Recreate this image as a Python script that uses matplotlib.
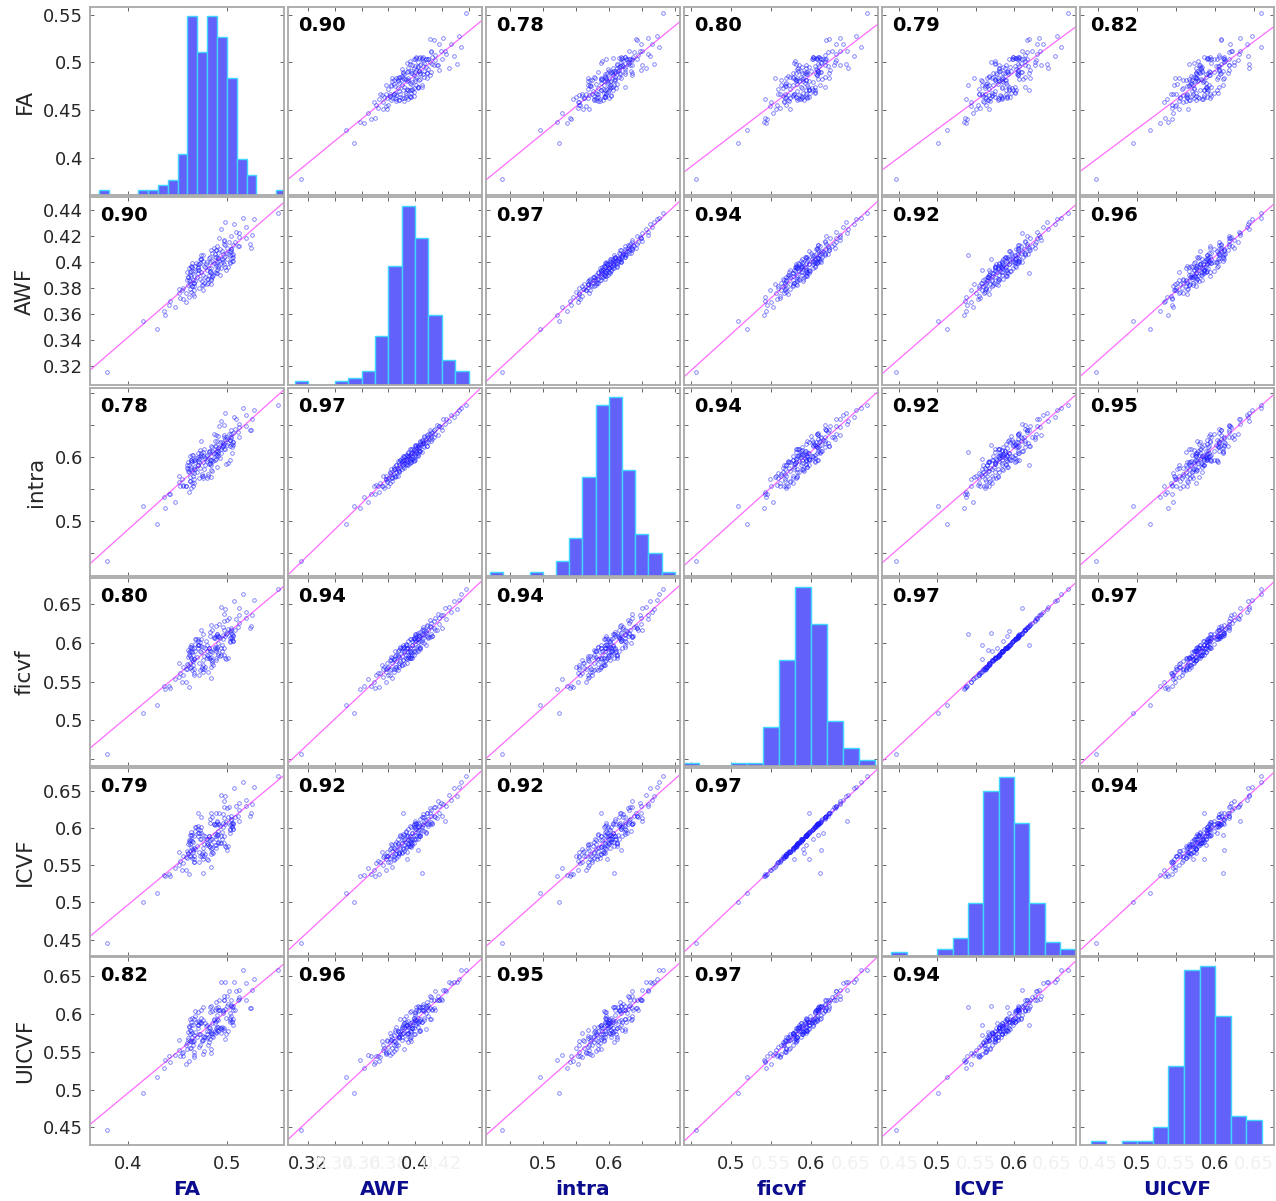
import numpy as np
import matplotlib
matplotlib.use('Agg')
import matplotlib.pyplot as plt

names = ['FA', 'AWF', 'intra', 'ficvf', 'ICVF', 'UICVF']

fa = [0.378, 0.429, 0.415, 0.437, 0.436, 0.447, 0.441, 0.458, 0.442, 0.452,
      0.462, 0.467, 0.466, 0.451, 0.464, 0.454, 0.476, 0.451, 0.472, 0.455,
      0.467, 0.465, 0.475, 0.461, 0.484, 0.463, 0.467, 0.481, 0.468, 0.475,
      0.462, 0.484, 0.466, 0.473, 0.480, 0.461, 0.478, 0.470, 0.485, 0.464,
      0.476, 0.463, 0.493, 0.471, 0.484, 0.460, 0.488, 0.474, 0.483, 0.464,
      0.490, 0.472, 0.480, 0.462, 0.494, 0.484, 0.471, 0.498, 0.478, 0.491,
      0.468, 0.489, 0.497, 0.479, 0.472, 0.494, 0.487, 0.465, 0.503, 0.480,
      0.490, 0.476, 0.506, 0.485, 0.496, 0.473, 0.500, 0.482, 0.491, 0.506,
      0.483, 0.497, 0.476, 0.503, 0.496, 0.488, 0.491, 0.485, 0.504, 0.495,
      0.489, 0.484, 0.504, 0.493, 0.524, 0.500, 0.490, 0.511, 0.506, 0.497,
      0.523, 0.502, 0.497, 0.497, 0.492, 0.512, 0.504, 0.526, 0.512, 0.509,
      0.494, 0.519, 0.507, 0.498, 0.528, 0.516, 0.552, 0.467, 0.501, 0.474,
      0.489, 0.469, 0.495, 0.481, 0.468, 0.504, 0.463, 0.482, 0.483, 0.506,
      0.480, 0.461, 0.483, 0.464, 0.492, 0.505, 0.467, 0.499, 0.471, 0.491,
      0.460, 0.490, 0.465, 0.496, 0.489, 0.503, 0.476, 0.466, 0.503, 0.487,
      0.467, 0.463, 0.486, 0.471, 0.474, 0.499, 0.512, 0.485, 0.477, 0.505,
      0.458, 0.477, 0.463, 0.489, 0.505, 0.489, 0.508, 0.482, 0.464, 0.488,
      0.465, 0.484, 0.471, 0.473, 0.501, 0.498, 0.519, 0.455, 0.491, 0.474]

awf = [0.315, 0.348, 0.354, 0.359, 0.362, 0.365, 0.367, 0.369, 0.370, 0.372,
       0.373, 0.374, 0.375, 0.376, 0.377, 0.378, 0.378, 0.379, 0.380, 0.380,
       0.381, 0.381, 0.382, 0.382, 0.383, 0.383, 0.384, 0.384, 0.385, 0.385,
       0.386, 0.386, 0.386, 0.387, 0.387, 0.388, 0.388, 0.388, 0.389, 0.389,
       0.390, 0.390, 0.390, 0.391, 0.391, 0.392, 0.392, 0.392, 0.393, 0.393,
       0.394, 0.394, 0.394, 0.395, 0.395, 0.395, 0.396, 0.396, 0.396, 0.397,
       0.397, 0.397, 0.398, 0.398, 0.398, 0.399, 0.399, 0.399, 0.400, 0.400,
       0.400, 0.401, 0.401, 0.401, 0.402, 0.402, 0.402, 0.403, 0.403, 0.404,
       0.404, 0.404, 0.405, 0.405, 0.406, 0.406, 0.407, 0.407, 0.408, 0.408,
       0.409, 0.409, 0.410, 0.410, 0.411, 0.411, 0.412, 0.412, 0.413, 0.414,
       0.414, 0.415, 0.416, 0.417, 0.418, 0.419, 0.420, 0.421, 0.422, 0.423,
       0.425, 0.427, 0.429, 0.431, 0.433, 0.434, 0.438, 0.384, 0.396, 0.405,
       0.391, 0.399, 0.402, 0.387, 0.393, 0.410, 0.379, 0.395, 0.400, 0.406,
       0.383, 0.388, 0.392, 0.397, 0.401, 0.405, 0.389, 0.394, 0.398, 0.403,
       0.386, 0.391, 0.396, 0.400, 0.404, 0.408, 0.382, 0.393, 0.399, 0.411,
       0.378, 0.385, 0.390, 0.395, 0.402, 0.407, 0.412, 0.388, 0.397, 0.401,
       0.376, 0.384, 0.392, 0.398, 0.403, 0.409, 0.415, 0.390, 0.396, 0.404,
       0.381, 0.387, 0.394, 0.399, 0.406, 0.413, 0.418, 0.371, 0.395, 0.402]

intra = [0.438, 0.496, 0.524, 0.521, 0.537, 0.529, 0.543, 0.554, 0.542, 0.554,
         0.546, 0.560, 0.555, 0.570, 0.551, 0.566, 0.571, 0.561, 0.568, 0.555,
         0.575, 0.560, 0.573, 0.581, 0.569, 0.562, 0.582, 0.574, 0.581, 0.571,
         0.577, 0.588, 0.570, 0.583, 0.594, 0.578, 0.588, 0.576, 0.595, 0.584,
         0.593, 0.581, 0.599, 0.588, 0.596, 0.583, 0.595, 0.600, 0.589, 0.595,
         0.603, 0.592, 0.597, 0.587, 0.607, 0.601, 0.594, 0.612, 0.599, 0.607,
         0.593, 0.605, 0.612, 0.602, 0.597, 0.612, 0.607, 0.594, 0.618, 0.604,
         0.610, 0.602, 0.619, 0.609, 0.617, 0.602, 0.619, 0.610, 0.614, 0.624,
         0.610, 0.620, 0.608, 0.626, 0.622, 0.617, 0.633, 0.616, 0.630, 0.624,
         0.635, 0.618, 0.632, 0.624, 0.642, 0.629, 0.625, 0.639, 0.637, 0.632,
         0.643, 0.636, 0.650, 0.635, 0.649, 0.647, 0.643, 0.659, 0.651, 0.660,
         0.656, 0.666, 0.662, 0.669, 0.673, 0.676, 0.682, 0.584, 0.590, 0.625,
         0.602, 0.599, 0.616, 0.571, 0.596, 0.636, 0.562, 0.608, 0.596, 0.624,
         0.568, 0.592, 0.590, 0.593, 0.616, 0.620, 0.596, 0.589, 0.607, 0.610,
         0.587, 0.584, 0.604, 0.619, 0.609, 0.627, 0.568, 0.603, 0.596, 0.636,
         0.566, 0.569, 0.594, 0.600, 0.607, 0.631, 0.631, 0.578, 0.612, 0.607,
         0.555, 0.581, 0.601, 0.597, 0.616, 0.617, 0.644, 0.589, 0.595, 0.625,
         0.577, 0.579, 0.588, 0.611, 0.622, 0.629, 0.649, 0.556, 0.601, 0.603]

ficvf = [0.456, 0.520, 0.509, 0.541, 0.544, 0.553, 0.545, 0.550, 0.542, 0.561,
         0.543, 0.561, 0.571, 0.556, 0.569, 0.549, 0.563, 0.574, 0.559, 0.569,
         0.559, 0.578, 0.567, 0.582, 0.555, 0.574, 0.579, 0.562, 0.590, 0.569,
         0.585, 0.569, 0.577, 0.565, 0.585, 0.591, 0.569, 0.582, 0.577, 0.595,
         0.572, 0.589, 0.583, 0.597, 0.578, 0.573, 0.594, 0.588, 0.580, 0.598,
         0.594, 0.574, 0.598, 0.588, 0.594, 0.582, 0.605, 0.581, 0.593, 0.587,
         0.605, 0.589, 0.585, 0.602, 0.597, 0.584, 0.607, 0.594, 0.603, 0.590,
         0.612, 0.595, 0.603, 0.588, 0.610, 0.601, 0.613, 0.594, 0.609, 0.602,
         0.614, 0.594, 0.611, 0.601, 0.621, 0.606, 0.600, 0.617, 0.613, 0.598,
         0.609, 0.623, 0.617, 0.606, 0.622, 0.630, 0.611, 0.621, 0.609, 0.629,
         0.619, 0.632, 0.617, 0.637, 0.624, 0.636, 0.619, 0.636, 0.645, 0.631,
         0.646, 0.640, 0.654, 0.644, 0.656, 0.663, 0.670, 0.579, 0.580, 0.617,
         0.578, 0.605, 0.589, 0.583, 0.599, 0.608, 0.568, 0.581, 0.609, 0.610,
         0.581, 0.571, 0.589, 0.581, 0.608, 0.604, 0.594, 0.579, 0.597, 0.609,
         0.566, 0.595, 0.588, 0.605, 0.592, 0.615, 0.578, 0.585, 0.607, 0.608,
         0.567, 0.583, 0.571, 0.603, 0.596, 0.612, 0.626, 0.574, 0.583, 0.611,
         0.566, 0.567, 0.595, 0.581, 0.607, 0.622, 0.617, 0.594, 0.589, 0.595,
         0.565, 0.590, 0.594, 0.589, 0.618, 0.609, 0.632, 0.558, 0.584, 0.605]

icvf = [0.446, 0.513, 0.501, 0.535, 0.537, 0.547, 0.539, 0.544, 0.536, 0.556,
        0.538, 0.554, 0.568, 0.550, 0.562, 0.544, 0.558, 0.568, 0.555, 0.563,
        0.554, 0.572, 0.562, 0.579, 0.548, 0.569, 0.559, 0.557, 0.572, 0.565,
        0.581, 0.565, 0.571, 0.562, 0.580, 0.566, 0.565, 0.576, 0.573, 0.591,
        0.568, 0.584, 0.580, 0.620, 0.572, 0.569, 0.578, 0.585, 0.575, 0.595,
        0.591, 0.568, 0.559, 0.584, 0.589, 0.579, 0.603, 0.576, 0.590, 0.582,
        0.602, 0.586, 0.580, 0.586, 0.594, 0.580, 0.605, 0.591, 0.599, 0.585,
        0.610, 0.591, 0.599, 0.585, 0.607, 0.597, 0.570, 0.589, 0.591, 0.599,
        0.612, 0.590, 0.540, 0.598, 0.619, 0.604, 0.596, 0.615, 0.611, 0.595,
        0.606, 0.621, 0.613, 0.603, 0.620, 0.627, 0.609, 0.617, 0.607, 0.628,
        0.617, 0.629, 0.614, 0.636, 0.621, 0.634, 0.617, 0.633, 0.610, 0.630,
        0.645, 0.638, 0.654, 0.643, 0.656, 0.662, 0.670, 0.574, 0.576, 0.615,
        0.573, 0.602, 0.586, 0.579, 0.596, 0.605, 0.563, 0.576, 0.607, 0.606,
        0.577, 0.566, 0.584, 0.575, 0.606, 0.601, 0.590, 0.575, 0.594, 0.605,
        0.560, 0.592, 0.583, 0.601, 0.589, 0.594, 0.573, 0.582, 0.604, 0.606,
        0.562, 0.579, 0.567, 0.599, 0.593, 0.609, 0.624, 0.568, 0.579, 0.607,
        0.561, 0.563, 0.591, 0.577, 0.603, 0.620, 0.615, 0.590, 0.584, 0.592,
        0.560, 0.586, 0.590, 0.585, 0.615, 0.606, 0.630, 0.553, 0.580, 0.602]

uicvf = [0.447, 0.516, 0.495, 0.539, 0.529, 0.546, 0.544, 0.534, 0.536, 0.544,
         0.538, 0.543, 0.564, 0.553, 0.555, 0.549, 0.547, 0.565, 0.557, 0.550,
         0.546, 0.575, 0.566, 0.566, 0.549, 0.555, 0.572, 0.559, 0.576, 0.564,
         0.583, 0.554, 0.559, 0.559, 0.577, 0.576, 0.569, 0.570, 0.574, 0.578,
         0.566, 0.573, 0.582, 0.586, 0.575, 0.554, 0.588, 0.588, 0.567, 0.590,
         0.579, 0.573, 0.586, 0.584, 0.575, 0.575, 0.603, 0.567, 0.588, 0.577,
         0.604, 0.576, 0.581, 0.584, 0.590, 0.582, 0.592, 0.595, 0.592, 0.574,
         0.599, 0.592, 0.586, 0.588, 0.604, 0.588, 0.611, 0.578, 0.610, 0.594,
         0.610, 0.579, 0.610, 0.589, 0.605, 0.606, 0.592, 0.604, 0.611, 0.580,
         0.608, 0.611, 0.612, 0.605, 0.608, 0.624, 0.594, 0.618, 0.605, 0.618,
         0.608, 0.630, 0.618, 0.624, 0.618, 0.620, 0.618, 0.632, 0.632, 0.631,
         0.643, 0.641, 0.642, 0.643, 0.647, 0.659, 0.659, 0.564, 0.578, 0.605,
         0.575, 0.589, 0.583, 0.570, 0.598, 0.598, 0.564, 0.563, 0.603, 0.611,
         0.568, 0.568, 0.582, 0.564, 0.605, 0.589, 0.594, 0.573, 0.581, 0.605,
         0.562, 0.583, 0.570, 0.601, 0.591, 0.602, 0.571, 0.586, 0.595, 0.593,
         0.550, 0.579, 0.569, 0.591, 0.589, 0.595, 0.622, 0.571, 0.569, 0.610,
         0.559, 0.551, 0.593, 0.581, 0.591, 0.616, 0.605, 0.583, 0.586, 0.577,
         0.563, 0.577, 0.586, 0.573, 0.613, 0.607, 0.619, 0.545, 0.583, 0.595]

# pairwise correlation coefficients printed in each panel
corr = [[None, 0.90, 0.78, 0.80, 0.79, 0.82],
        [0.90, None, 0.97, 0.94, 0.92, 0.96],
        [0.78, 0.97, None, 0.94, 0.92, 0.95],
        [0.80, 0.94, 0.94, None, 0.97, 0.97],
        [0.79, 0.92, 0.92, 0.97, None, 0.94],
        [0.82, 0.96, 0.95, 0.97, 0.94, None]]

data = [np.array(v) for v in (fa, awf, intra, ficvf, icvf, uicvf)]

# axis limits, histogram bins and ticks for each variable
lims = [(0.361, 0.558), (0.305, 0.450), (0.414, 0.708),
        (0.441, 0.684), (0.428, 0.681), (0.4265, 0.6756)]
bins = [np.round(np.arange(0.37, 0.5651, 0.01), 3),
        np.round(np.arange(0.31, 0.4451, 0.01), 3),
        np.round(np.arange(0.42, 0.7001, 0.02), 3),
        np.round(np.arange(0.44, 0.6801, 0.02), 3),
        np.round(np.arange(0.44, 0.6801, 0.02), 3),
        np.round(np.arange(0.44, 0.6601, 0.02), 3)]
xticks = [[0.4, 0.5],
          [0.32, 0.34, 0.36, 0.38, 0.40, 0.42, 0.44],
          [0.45, 0.5, 0.55, 0.6, 0.65, 0.7],
          [0.45, 0.5, 0.55, 0.6, 0.65],
          [0.45, 0.5, 0.55, 0.6, 0.65],
          [0.45, 0.5, 0.55, 0.6, 0.65]]
xshown = [[0.4, 0.5], [0.32, 0.40], [0.5, 0.6], [0.5, 0.6], [0.5, 0.6], [0.5, 0.6]]
xfaint = [[], [0.34, 0.36, 0.38, 0.42], [], [0.55, 0.65],
          [0.45, 0.55, 0.65], [0.45, 0.55, 0.65]]
yticks = [[0.4, 0.45, 0.5, 0.55],
          [0.32, 0.34, 0.36, 0.38, 0.40, 0.42, 0.44],
          [0.45, 0.5, 0.55, 0.6, 0.65, 0.7],
          [0.45, 0.5, 0.55, 0.6, 0.65],
          [0.45, 0.5, 0.55, 0.6, 0.65],
          [0.45, 0.5, 0.55, 0.6, 0.65]]
yshown = [[0.4, 0.45, 0.5, 0.55],
          [0.32, 0.34, 0.36, 0.38, 0.40, 0.42, 0.44],
          [0.5, 0.6],
          [0.5, 0.55, 0.6, 0.65],
          [0.45, 0.5, 0.55, 0.6, 0.65],
          [0.45, 0.5, 0.55, 0.6, 0.65]]


def fmt(v):
    return ('%.2f' % v).rstrip('0')


W, H = 1276, 1201
fig = plt.figure(figsize=(W / 100, H / 100), dpi=100)
col_left = [90, 288, 486, 684, 882, 1080]
row_top = [7, 197, 388, 578, 768, 957]
pw, ph = 194, 188

for i in range(6):
    for j in range(6):
        ax = fig.add_axes([col_left[j] / W, 1 - (row_top[i] + ph) / H, pw / W, ph / H])
        x, y = data[j], data[i]
        ax.set_xlim(lims[j])
        ax.set_ylim(lims[i])
        if i == j:
            counts, edges = np.histogram(x, bins=bins[i])
            lo, hi = lims[i]
            heights = counts / counts.max() * 0.95 * (hi - lo)
            ax.bar(edges[:-1], heights, width=np.diff(edges), bottom=lo, align='edge',
                   color='#6262fa', edgecolor='#3fd6ff', linewidth=1.0, zorder=2)
        else:
            ax.plot(x, y, 'o', ms=2.6, mfc='none', mec=(0.1, 0.1, 1.0, 0.6), mew=0.6, zorder=3)
            p = np.polyfit(x, y, 1)
            xs = np.array(lims[j])
            ax.plot(xs, np.polyval(p, xs), color='#ff6cff', lw=0.9, zorder=2)
            ax.text(10 / pw, 1 - 9 / ph, '%.2f' % corr[i][j], transform=ax.transAxes,
                    ha='left', va='top', fontsize=14, fontweight='bold', color='black')

        for s in ax.spines.values():
            s.set_color('#a8a8a8')
            s.set_linewidth(1.3)
        ax.tick_params(direction='in', length=3, width=0.7, color='#666666',
                       top=True, right=True, labelsize=13, labelcolor='#262626',
                       labelleft=(j == 0), labelbottom=(i == 5))
        ax.tick_params(axis='x', pad=7)
        ax.tick_params(axis='y', pad=5)

        ax.set_xticks(xticks[j])
        ax.set_xticklabels([fmt(t) if (t in xshown[j] or t in xfaint[j]) else ''
                            for t in xticks[j]])
        # overlapped tick labels stay barely visible
        for t, lab in zip(xticks[j], ax.get_xticklabels()):
            if t in xfaint[j]:
                lab.set_color('#f1f1f1')
                lab.set_zorder(0)
        ax.set_yticks(yticks[i])
        ax.set_yticklabels([fmt(t) if t in yshown[i] else '' for t in yticks[i]])

        if j == 0:
            ax.set_ylabel(names[i], fontsize=15.5, color='#262626', labelpad=6)
        if i == 5:
            ax.set_xlabel(names[j], fontsize=14.5, fontweight='bold', color='#0c0c8e',
                          labelpad=5)

fig.savefig('out.png', dpi=100)
